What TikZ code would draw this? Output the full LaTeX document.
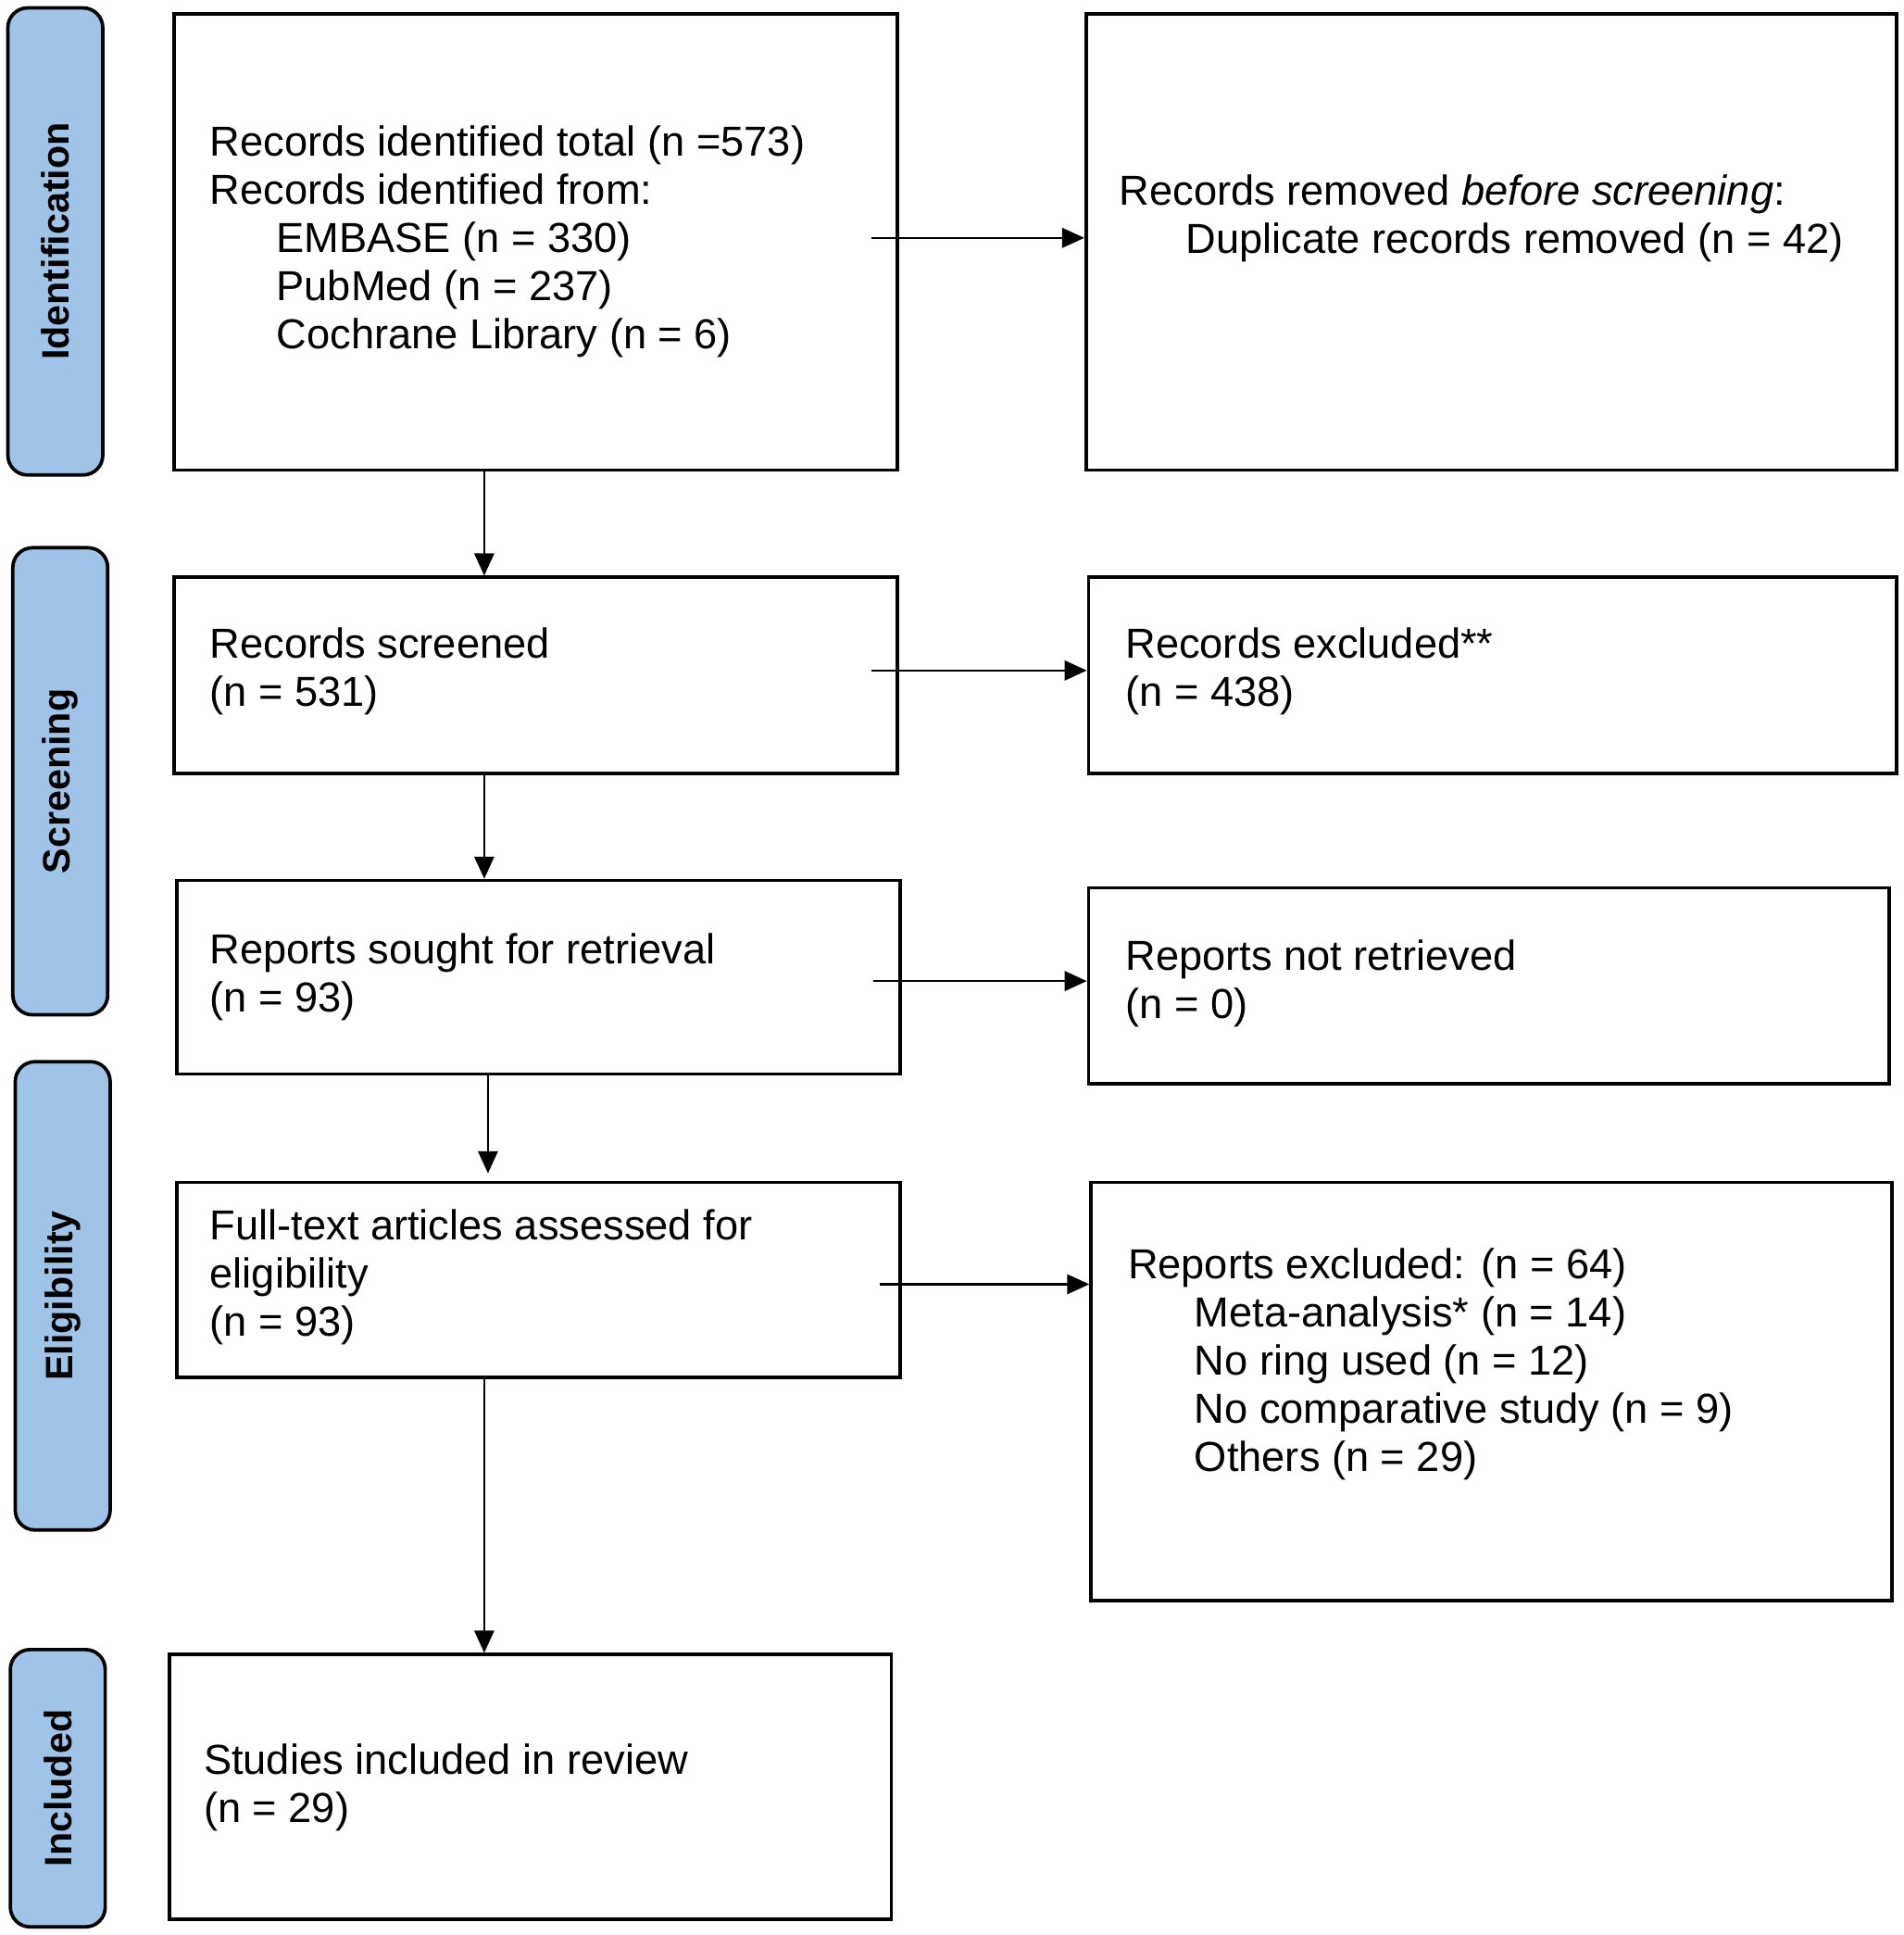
\documentclass[tikz,border=0pt]{standalone}
\usepackage{fontspec}
\setmainfont{Liberation Sans}
\usetikzlibrary{arrows.meta}
\definecolor{phase}{RGB}{160,196,232}
\tikzset{
  box/.style={draw, line width=1.4pt, anchor=north west, inner sep=0pt},
  txt/.style={anchor=west, align=left, inner sep=0pt, font=\fontsize{17}{19.5}\selectfont},
  phasebox/.style={draw, line width=1.4pt, fill=phase, rounded corners=8pt, anchor=north west, inner sep=0pt},
  phaselbl/.style={rotate=90, font=\fontsize{15.5}{17}\selectfont\bfseries},
  arr/.style={line width=0.9pt, -{Triangle[length=9pt,width=8pt]}}
}
\newcommand{\ind}{\hspace*{27pt}}
\begin{document}
\begin{tikzpicture}[x=0.5pt,y=-0.5pt]
\useasboundingbox (0,0) rectangle (1545,1570);

% phase labels
\node[phasebox, minimum width=38.5pt, minimum height=189.5pt] (pid) at (5,5) {};
\node[phaselbl] at (pid.center) {Identification};
\node[phasebox, minimum width=38.5pt, minimum height=189.5pt] (pscr) at (9,443) {};
\node[phaselbl] at (pscr.center) {Screening};
\node[phasebox, minimum width=38.5pt, minimum height=190pt] (pel) at (11,860) {};
\node[phaselbl] at (pel.center) {Eligibility};
\node[phasebox, minimum width=38.5pt, minimum height=112.5pt] (pin) at (7,1337) {};
\node[phaselbl] at (pin.center) {Included};

% boxes
\node[box, minimum width=293.5pt, minimum height=185pt] (ident) at (140,10) {};
\node[box, minimum width=329pt, minimum height=185pt] (dup) at (880,10) {};
\node[box, minimum width=293.5pt, minimum height=79.5pt] (scr) at (140,467) {};
\node[box, minimum width=328pt, minimum height=79.5pt] (excl) at (882,467) {};
\node[box, minimum width=293.5pt, minimum height=78.5pt] (sought) at (142,713) {};
\node[box, minimum width=325pt, minimum height=79.5pt] (notret) at (882,719) {};
\node[box, minimum width=293.5pt, minimum height=79pt] (full) at (142,958) {};
\node[box, minimum width=325pt, minimum height=169.5pt] (repex) at (884,958) {};
\node[box, minimum width=293pt, minimum height=107.5pt] (incl) at (136,1341) {};

% texts
\node[txt] at (170,196) {Records identified total (n =573)\\Records identified from:\\\ind EMBASE (n = 330)\\\ind PubMed (n = 237)\\\ind Cochrane Library (n = 6)};
\node[txt] at (908,177) {Records removed \textit{before screening}:\\\ind Duplicate records removed (n = 42)};
\node[txt] at (170,545) {Records screened\\(n = 531)};
\node[txt] at (913,545) {Records excluded**\\(n = 438)};
\node[txt] at (170,793) {Reports sought for retrieval\\(n = 93)};
\node[txt] at (913,798) {Reports not retrieved\\(n = 0)};
\node[txt] at (170,1036) {Full-text articles assessed for\\eligibility\\(n = 93)};
\node[txt] at (915,1107) {Reports excluded: (n = 64)\\\ind Meta-analysis* (n = 14)\\\ind No ring used (n = 12)\\\ind No comparative study (n = 9)\\\ind Others (n = 29)};
\node[txt] at (165,1450) {Studies included in review\\(n = 29)};

% connectors
\coordinate (va) at (393,0);
\coordinate (vb) at (396,0);
\draw[arr] (ident.south -| va) -- (scr.north -| va);
\draw[arr] (scr.south -| va) -- (sought.north -| va);
\draw[arr] (sought.south -| vb) -- ([yshift=3pt]full.north -| vb);
\draw[arr] (full.south -| va) -- (incl.north -| va);
\coordinate (ha) at (707,193);
\coordinate (hb) at (707,544);
\coordinate (hc) at (709,796);
\coordinate (hd) at (714,1042);
\draw[arr] (ha) -- (ha -| dup.west);
\draw[arr] (hb) -- (hb -| excl.west);
\draw[arr] (hc) -- (hc -| notret.west);
\draw[arr] (hd) -- (hd -| repex.west);
\end{tikzpicture}
\end{document}
